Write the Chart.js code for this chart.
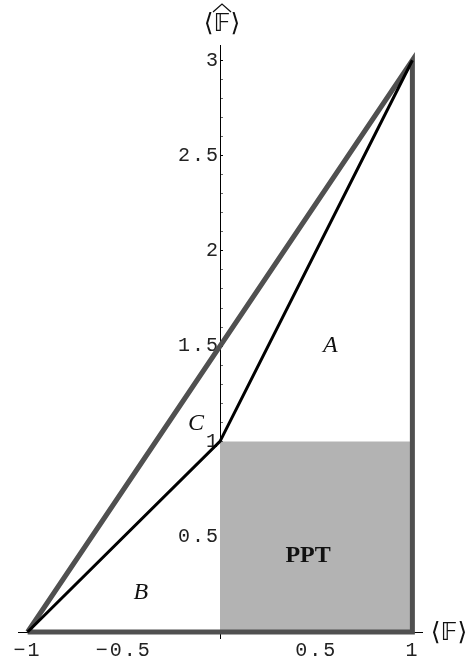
<!DOCTYPE html>
<html>
<head>
<meta charset="utf-8">
<script src="https://cdn.jsdelivr.net/npm/chart.js@4"></script>
<style>
  html, body { margin: 0; padding: 0; background: #fff; }
  #wrap { width: 472px; height: 662px; }
</style>
</head>
<body>
<div id="wrap"><canvas id="c"></canvas></div>
<script>
// outer triangle (thick gray), the black path and the PPT box
var triX = [-1, 1, 1, -1];
var triY = [0, 3, 0, 0];
var pathX = [-1, 0, 1];
var pathY = [0, 1, 3];
var pptX = [0, 1];
var pptY = [1, 1];

var xTicks = [-1, -0.5, 0, 0.5, 1];
var yMajor = [0.5, 1, 1.5, 2, 2.5, 3];

// region names and where they sit (data coords)
var regionNames = ["A", "B", "C", "PPT"];
var regionX = [0.573, -0.411, -0.125, 0.458];
var regionY = [1.5, 0.205, 1.094, 0.398];

function pts(xs, ys) {
  var out = [];
  for (var i = 0; i < xs.length; i++) out.push({x: xs[i], y: ys[i]});
  return out;
}

function fmt(v) {
  return (v < 0 ? "\u2212" : "") + String(Math.abs(v));
}

var yMinor = [];
for (var k = 1; k <= 30; k++) yMinor.push(k / 10);

var labelsPlugin = {
  id: "labels",
  beforeDraw: function(chart) {
    chart.ctx.letterSpacing = "2px";
  },
  afterDraw: function(chart) {
    var ctx = chart.ctx;
    var sx = chart.scales.x, sy = chart.scales.y;
    ctx.save();
    ctx.letterSpacing = "0px";
    ctx.fillStyle = "#111";
    ctx.textAlign = "center";
    ctx.textBaseline = "middle";
    for (var i = 0; i < regionNames.length; i++) {
      if (regionNames[i] === "PPT") ctx.font = "bold 24px 'Liberation Serif'";
      else ctx.font = "italic 24px 'Liberation Serif'";
      ctx.fillText(regionNames[i], sx.getPixelForValue(regionX[i]), sy.getPixelForValue(regionY[i]));
    }
    // axis names
    ctx.font = "25px 'DejaVu Sans'";
    ctx.fillText("\u27E8\uD835\uDD3D\u27E9", sx.right + 27, sy.bottom + 1);
    var cx = sx.getPixelForValue(0) + 2;
    ctx.fillText("\u27E8\uD835\uDD3D\u27E9", cx, 24);
    // wide hat over the F
    ctx.strokeStyle = "#111";
    ctx.lineWidth = 1.3;
    ctx.beginPath();
    ctx.moveTo(cx - 9, 12);
    ctx.lineTo(cx, 4);
    ctx.lineTo(cx + 9, 12);
    ctx.stroke();
    ctx.restore();
    ctx.letterSpacing = "0px";
  }
};

new Chart(document.getElementById("c"), {
  type: "line",
  data: {
    datasets: [
      {
        data: pts(pptX, pptY),
        borderWidth: 0,
        pointRadius: 0,
        backgroundColor: "#b3b3b3",
        fill: "origin",
        order: 3
      },
      {
        data: pts(triX, triY),
        borderColor: "#505050",
        borderWidth: 5,
        pointRadius: 0,
        fill: false,
        clip: 10,
        order: 2
      },
      {
        data: pts(pathX, pathY),
        borderColor: "#000",
        borderWidth: 3,
        pointRadius: 0,
        fill: false,
        clip: 10,
        order: 1
      }
    ]
  },
  options: {
    responsive: true,
    maintainAspectRatio: false,
    animation: false,
    events: [],
    layout: { padding: { left: 18, right: 50, top: 45, bottom: 0 } },
    plugins: { legend: { display: false }, tooltip: { enabled: false } },
    scales: {
      x: {
        type: "linear",
        position: "bottom",
        min: -1.05,
        max: 1.05,
        afterBuildTicks: function(s) {
          s.ticks = xTicks.map(function(v) { return {value: v}; });
        },
        afterFit: function(s) { s.height = 30; },
        border: { color: "#000", width: 1 },
        grid: {
          drawOnChartArea: false,
          tickLength: 7,
          tickColor: function(c) { return c.tick && c.tick.value === 0 ? "#000" : "rgba(0,0,0,0)"; }
        },
        ticks: {
          autoSkip: false,
          maxRotation: 0,
          padding: 0,
          color: "#222",
          font: { family: "Liberation Mono", size: 20 },
          callback: function(v) { return v === 0 ? "" : fmt(v); }
        }
      },
      y: {
        type: "linear",
        position: { x: 0 },
        min: 0,
        max: 3.08,
        afterBuildTicks: function(s) {
          s.ticks = yMinor.map(function(v) { return {value: v}; });
        },
        border: { color: "#000", width: 1 },
        grid: {
          drawOnChartArea: false,
          tickLength: -3,
          tickColor: function(c) {
            return c.tick && yMajor.indexOf(c.tick.value) >= 0 ? "#000" : "#666";
          }
        },
        ticks: {
          autoSkip: false,
          padding: 3,
          color: "#222",
          font: { family: "Liberation Mono", size: 20 },
          callback: function(v) { return yMajor.indexOf(v) >= 0 ? fmt(v) : ""; }
        }
      }
    }
  },
  plugins: [labelsPlugin]
});
</script>
</body>
</html>
